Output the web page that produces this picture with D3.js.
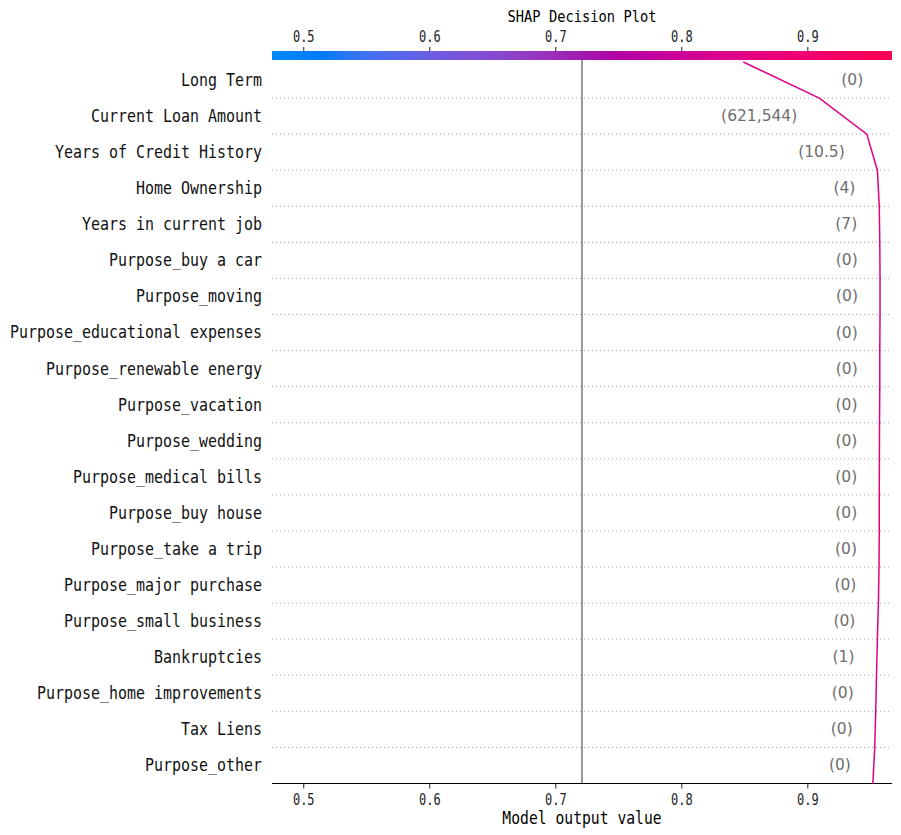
<!DOCTYPE html>
<html>
<head>
<meta charset="utf-8">
<script src="https://cdn.jsdelivr.net/npm/d3@7"></script>
<style>
  html, body { margin: 0; padding: 0; background: #fff; }
  svg { display: block; }
</style>
</head>
<body>
<svg id="chart" width="901" height="835"></svg>
<script>
// ---------- data ----------
const features = [
  "Long Term", "Current Loan Amount", "Years of Credit History", "Home Ownership",
  "Years in current job", "Purpose_buy a car", "Purpose_moving",
  "Purpose_educational expenses", "Purpose_renewable energy", "Purpose_vacation",
  "Purpose_wedding", "Purpose_medical bills", "Purpose_buy house",
  "Purpose_take a trip", "Purpose_major purchase", "Purpose_small business",
  "Bankruptcies", "Purpose_home improvements", "Tax Liens", "Purpose_other"
];
const featureValues = [
  "0", "621,544", "10.5", "4", "7", "0", "0", "0", "0", "0",
  "0", "0", "0", "0", "0", "0", "1", "0", "0", "0"
];
// model output at each row boundary, from top boundary to bottom boundary
const cumulativeOutput = [
  0.8492, 0.9095, 0.9472, 0.9556, 0.9571, 0.9575, 0.9577, 0.9577, 0.9575, 0.9575,
  0.9573, 0.9572, 0.9571, 0.9571, 0.9569, 0.9564, 0.9556, 0.9549, 0.9543, 0.9535,
  0.9520
];
const baseValue = 0.7212;
const xTicks = [0.5, 0.6, 0.7, 0.8, 0.9];
const xDomain = [0.4752, 0.9672];
const titleText = "SHAP Decision Plot";
const xLabel = "Model output value";

(function () {
// ---------- layout ----------
const svg = d3.select("#chart");
const pLeft = 272, pRight = 892, pTop = 62, pBottom = 783.5;
const x = d3.scaleLinear().domain(xDomain).range([pLeft, pRight]);
const y = d3.scaleLinear().domain([0, features.length]).range([pTop, pBottom]);

// SHAP red_blue colormap (LCH interpolation with dip in lightness)
function shapRedBlue(t) {
  t = Math.max(0, Math.min(1, t));
  const hBlue = 4.6588 * 180 / Math.PI;
  const hRed = (0.35470565 + 2 * Math.PI) * 180 / Math.PI;
  const h = hBlue + (hRed - hBlue) * t;
  const c = 70 + (90 - 70) * t;
  const l = t < 0.5 ? 54 + (40 - 54) * (t / 0.5) : 40 + (54 - 40) * ((t - 0.5) / 0.5);
  return d3.hcl(h, c, l).formatHex();
}

const mono = "'DejaVu Sans Mono', monospace";

// colour bar
const defs = svg.append("defs");
const grad = defs.append("linearGradient").attr("id", "cbar")
  .attr("x1", "0%").attr("x2", "100%").attr("y1", "0%").attr("y2", "0%");
d3.range(0, 1.0001, 0.02).forEach(t => {
  grad.append("stop").attr("offset", (t * 100) + "%").attr("stop-color", shapRedBlue(t));
});
svg.append("rect").attr("x", pLeft).attr("y", 51).attr("width", pRight - pLeft).attr("height", 9)
  .attr("fill", "url(#cbar)");

// dotted row separators
svg.append("g").selectAll("line")
  .data(d3.range(1, features.length))
  .join("line")
  .attr("x1", pLeft).attr("x2", pRight)
  .attr("y1", d => y(d)).attr("y2", d => y(d))
  .attr("stroke", "#a8a8a8").attr("stroke-width", 1)
  .attr("stroke-dasharray", "1,3");

// base value line
svg.append("line")
  .attr("x1", x(baseValue)).attr("x2", x(baseValue))
  .attr("y1", 60).attr("y2", pBottom)
  .attr("stroke", "#999999").attr("stroke-width", 2);

// top axis
const topAxis = svg.append("g").attr("transform", "translate(0,51)")
  .call(d3.axisTop(x).tickValues(xTicks).tickSizeInner(4).tickSizeOuter(0).tickPadding(5).tickFormat(d3.format(".1f")));
topAxis.select(".domain").remove();
topAxis.selectAll("line").attr("stroke", "#222");
topAxis.selectAll("text").attr("font-family", mono).attr("font-size", 15)
  .attr("fill", "#222").attr("transform", "scale(0.8,1)");

// bottom axis
const botAxis = svg.append("g").attr("transform", `translate(0,${pBottom})`)
  .call(d3.axisBottom(x).tickValues(xTicks).tickSizeInner(5).tickSizeOuter(0).tickPadding(6).tickFormat(d3.format(".1f")));
botAxis.select(".domain").remove();
botAxis.append("line").attr("x1", pLeft).attr("x2", pRight).attr("y1", 0).attr("y2", 0)
  .attr("stroke", "#000").attr("stroke-width", 1.2);
botAxis.selectAll(".tick line").attr("stroke", "#222");
botAxis.selectAll("text").attr("font-family", mono).attr("font-size", 15)
  .attr("fill", "#222").attr("transform", "scale(0.8,1)");

// feature labels
svg.append("g").selectAll("text")
  .data(features)
  .join("text")
  .attr("transform", (d, i) => `translate(262,${y(i + 0.5)}) scale(0.855,1)`)
  .attr("text-anchor", "end")
  .attr("dominant-baseline", "central")
  .attr("font-family", mono).attr("font-size", 17.5)
  .attr("fill", "#111")
  .text(d => d);

// decision line
const lineColor = shapRedBlue((cumulativeOutput[0] - xDomain[0]) / (xDomain[1] - xDomain[0]));
svg.append("path")
  .datum(cumulativeOutput)
  .attr("fill", "none")
  .attr("stroke", lineColor)
  .attr("stroke-width", 1.5)
  .attr("d", d3.line().x(d => x(d)).y((d, i) => y(i)));

// feature value labels (placed as SHAP does: right of the segment, else left of it)
const pad = 22;
const valG = svg.append("g");
featureValues.forEach((v, i) => {
  const a = x(cumulativeOutput[i]), b = x(cumulativeOutput[i + 1]);
  const t = valG.append("text")
    .attr("y", y(i + 0.5))
    .attr("dominant-baseline", "central")
    .attr("font-family", "'DejaVu Sans', sans-serif").attr("font-size", 15.5)
    .attr("fill", "#6e6e6e")
    .text(`(${v})`);
  const w = t.node().getComputedTextLength();
  const xr = Math.max(a, b) + pad;
  if (xr + w <= pRight) {
    t.attr("x", xr).attr("text-anchor", "start");
  } else {
    t.attr("x", Math.min(a, b) - pad).attr("text-anchor", "end");
  }
});

// title and axis label
svg.append("text")
  .attr("transform", `translate(${(pLeft + pRight) / 2},22) scale(0.86,1)`)
  .attr("text-anchor", "middle")
  .attr("font-family", mono).attr("font-size", 16)
  .attr("fill", "#000")
  .text(titleText);

svg.append("text")
  .attr("transform", `translate(${(pLeft + pRight) / 2},824) scale(0.84,1)`)
  .attr("text-anchor", "middle")
  .attr("font-family", mono).attr("font-size", 17.5)
  .attr("fill", "#000")
  .text(xLabel);
})();
</script>
</body>
</html>
